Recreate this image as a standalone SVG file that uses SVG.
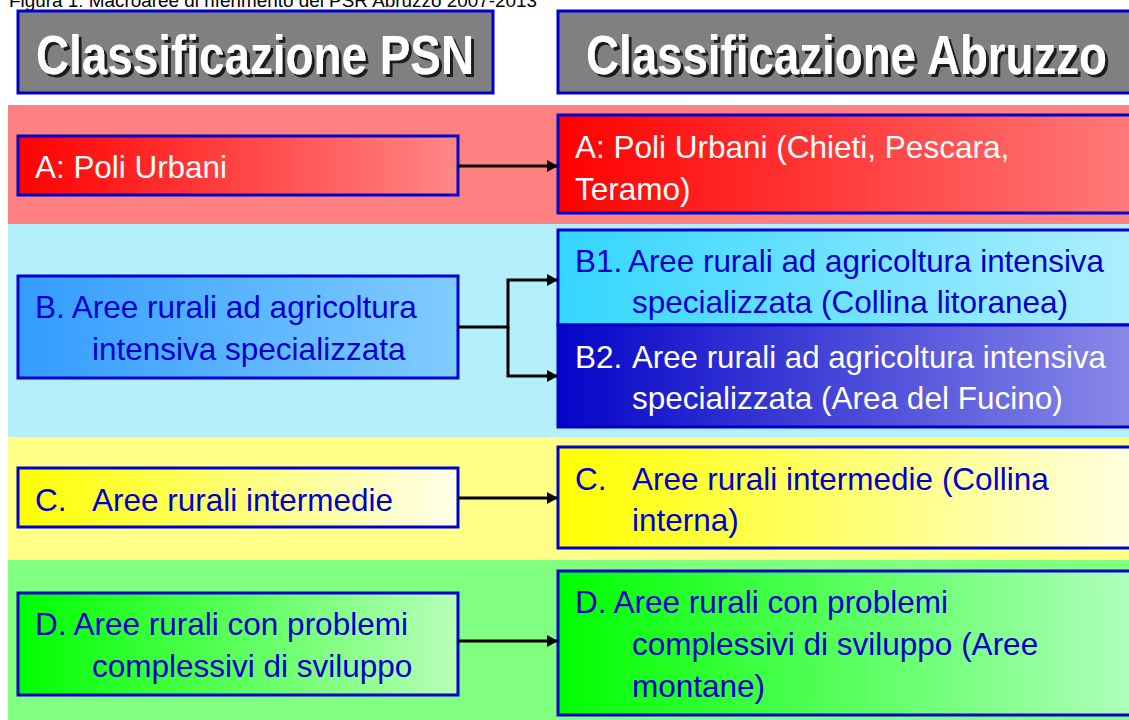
<svg xmlns="http://www.w3.org/2000/svg" width="1129" height="720" viewBox="0 0 1129 720">
<style>
.hdr{fill:#808080;stroke:#0000cc;stroke-width:3}
.box{stroke:#0000cc;stroke-width:3}
.ht{font-family:"Liberation Sans",Arial,sans-serif;font-weight:bold;font-size:56px;fill:#ffffff;filter:url(#shadow)}
.t{font-family:"Liberation Sans",Arial,sans-serif;font-size:31.5px}
.w{fill:#ffffff}
.b{fill:#0000cc}
.cap{font-family:"Liberation Sans",Arial,sans-serif;font-size:18.5px;fill:#000000}
.con{stroke:#000000;stroke-width:3;fill:none}
</style>
<defs>
<filter id="shadow" x="-5%" y="-20%" width="110%" height="150%">
<feFlood flood-color="#1a1a1a" result="c"/>
<feComposite in="c" in2="SourceAlpha" operator="in" result="s"/>
<feOffset in="s" dx="3" dy="3" result="o"/>
<feMerge><feMergeNode in="o"/><feMergeNode in="SourceGraphic"/></feMerge>
</filter>
<marker id="arr" markerWidth="12" markerHeight="12" refX="10" refY="6" orient="auto" markerUnits="userSpaceOnUse">
<path d="M0,0 L11,6 L0,12 Z" fill="#000000"/>
</marker>
<linearGradient id="gAl" gradientUnits="userSpaceOnUse" x1="18" y1="0" x2="458" y2="0"><stop offset="0" stop-color="#ff0000"/><stop offset="1" stop-color="#ff8888"/></linearGradient>
<linearGradient id="gAr" gradientUnits="userSpaceOnUse" x1="558" y1="0" x2="1160" y2="0"><stop offset="0" stop-color="#ff0000"/><stop offset="1" stop-color="#ff8080"/></linearGradient>
<linearGradient id="gBl" gradientUnits="userSpaceOnUse" x1="18" y1="0" x2="458" y2="0"><stop offset="0" stop-color="#339cff"/><stop offset="1" stop-color="#80ccff"/></linearGradient>
<linearGradient id="gB1" gradientUnits="userSpaceOnUse" x1="558" y1="0" x2="1160" y2="0"><stop offset="0" stop-color="#33d6ff"/><stop offset="1" stop-color="#b4f0fc"/></linearGradient>
<linearGradient id="gB2" gradientUnits="userSpaceOnUse" x1="558" y1="0" x2="1160" y2="0"><stop offset="0" stop-color="#0505c8"/><stop offset="1" stop-color="#9090ea"/></linearGradient>
<linearGradient id="gCl" gradientUnits="userSpaceOnUse" x1="18" y1="0" x2="458" y2="0"><stop offset="0" stop-color="#ffff00"/><stop offset="1" stop-color="#ffffec"/></linearGradient>
<linearGradient id="gCr" gradientUnits="userSpaceOnUse" x1="558" y1="0" x2="1160" y2="0"><stop offset="0" stop-color="#ffff00"/><stop offset="1" stop-color="#ffffec"/></linearGradient>
<linearGradient id="gDl" gradientUnits="userSpaceOnUse" x1="18" y1="0" x2="458" y2="0"><stop offset="0" stop-color="#00ff00"/><stop offset="1" stop-color="#b8ffb8"/></linearGradient>
<linearGradient id="gDr" gradientUnits="userSpaceOnUse" x1="558" y1="0" x2="1160" y2="0"><stop offset="0" stop-color="#00ff00"/><stop offset="1" stop-color="#b8ffc4"/></linearGradient>
</defs>
<rect x="0" y="0" width="1129" height="720" fill="#ffffff"/>
<text class="cap" x="9" y="6.5" textLength="528" lengthAdjust="spacingAndGlyphs">Figura 1: Macroaree di riferimento del PSR Abruzzo 2007-2013</text>
<g id="bands">
<rect x="8" y="105" width="1121" height="119" fill="#ff8080"/>
<rect x="8" y="224" width="1121" height="213" fill="#b4f0fc"/>
<rect x="8" y="437" width="1121" height="123" fill="#ffff88"/>
<rect x="8" y="560" width="1121" height="160" fill="#80ff80"/>
</g>
<g id="header-psn">
<rect class="hdr" x="18" y="11" width="475" height="82"/>
<text class="ht" x="36" y="74" textLength="438" lengthAdjust="spacingAndGlyphs">Classificazione PSN</text>
</g>
<g id="header-abruzzo">
<rect class="hdr" x="558" y="11" width="590" height="82"/>
<text class="ht" x="586" y="74" textLength="521" lengthAdjust="spacingAndGlyphs">Classificazione Abruzzo</text>
</g>
<g id="psn-a">
<rect class="box" x="18" y="136" width="440" height="59" fill="url(#gAl)"/>
<text class="t w" x="35" y="178" textLength="192" lengthAdjust="spacingAndGlyphs">A: Poli Urbani</text>
</g>
<g id="psn-b">
<rect class="box" x="18" y="276" width="440" height="102" fill="url(#gBl)"/>
<text class="t b" x="35" y="318">B. Aree rurali ad agricoltura</text>
<text class="t b" x="92" y="360">intensiva specializzata</text>
</g>
<g id="psn-c">
<rect class="box" x="18" y="468" width="440" height="59" fill="url(#gCl)"/>
<text class="t b" x="35" y="511">C.</text>
<text class="t b" x="92" y="511">Aree rurali intermedie</text>
</g>
<g id="psn-d">
<rect class="box" x="18" y="593" width="440" height="102" fill="url(#gDl)"/>
<text class="t b" x="35" y="635">D. Aree rurali con problemi</text>
<text class="t b" x="92" y="677">complessivi di sviluppo</text>
</g>
<g id="abr-a">
<rect class="box" x="558" y="115" width="590" height="98" fill="url(#gAr)"/>
<text class="t w" x="575" y="158">A: Poli Urbani (Chieti, Pescara,</text>
<text class="t w" x="575" y="200">Teramo)</text>
</g>
<g id="abr-b1">
<rect class="box" x="558" y="230" width="590" height="95" fill="url(#gB1)"/>
<text class="t b" x="575" y="272">B1.</text>
<text class="t b" x="628" y="272" textLength="476" lengthAdjust="spacingAndGlyphs">Aree rurali ad agricoltura intensiva</text>
<text class="t b" x="632" y="313">specializzata (Collina litoranea)</text>
</g>
<g id="abr-b2">
<rect class="box" x="558" y="325" width="590" height="102" fill="url(#gB2)"/>
<text class="t w" x="575" y="368">B2.</text>
<text class="t w" x="632" y="368" textLength="474" lengthAdjust="spacingAndGlyphs">Aree rurali ad agricoltura intensiva</text>
<text class="t w" x="632" y="409">specializzata (Area del Fucino)</text>
</g>
<g id="abr-c">
<rect class="box" x="558" y="447" width="590" height="101" fill="url(#gCr)"/>
<text class="t b" x="575" y="490">C.</text>
<text class="t b" x="632" y="490">Aree rurali intermedie (Collina</text>
<text class="t b" x="632" y="531">interna)</text>
</g>
<g id="abr-d">
<rect class="box" x="558" y="571" width="590" height="144" fill="url(#gDr)"/>
<text class="t b" x="575" y="613">D. Aree rurali con problemi</text>
<text class="t b" x="632" y="655">complessivi di sviluppo (Aree</text>
<text class="t b" x="632" y="697">montane)</text>
</g>
<g id="connectors">
<path class="con" d="M458,166 H557" marker-end="url(#arr)"/>
<path class="con" d="M458,327 H508 V280 H557" marker-end="url(#arr)"/>
<path class="con" d="M508,327 V376 H557" marker-end="url(#arr)"/>
<path class="con" d="M458,498 H557" marker-end="url(#arr)"/>
<path class="con" d="M458,641 H557" marker-end="url(#arr)"/>
</g>
</svg>
